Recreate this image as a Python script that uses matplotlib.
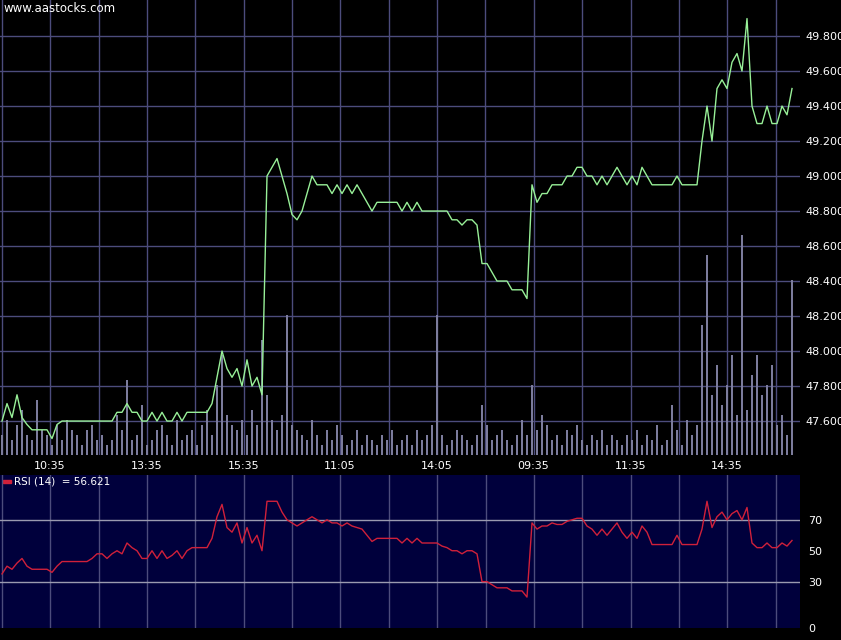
import matplotlib
matplotlib.use("Agg")
import matplotlib.pyplot as plt
import numpy as np

price = [47.60,47.70,47.62,47.75,47.62,47.58,47.55,47.55,47.55,47.55,47.50,47.58,
 47.60,47.60,47.60,47.60,47.60,47.60,47.60,47.60,47.60,
 47.60,47.60,47.65,47.65,47.70,47.65,47.65,47.60,47.60,47.65,47.60,47.65,47.60,47.60,47.65,47.60,47.65,
 47.65,47.65,47.65,47.65,47.70,47.85,48.00,47.90,47.85,47.90,47.80,47.95,47.80,47.85,47.75,
 49.00,49.05,49.10,49.00,48.90,48.78,48.75,48.80,48.90,49.00,48.95,48.95,48.95,48.90,48.95,48.90,48.95,48.90,48.95,48.90,
 48.85,48.80,48.85,48.85,48.85,48.85,48.85,48.80,48.85,48.80,48.85,48.80,48.80,48.80,48.80,48.80,48.80,
 48.75,48.75,48.72,48.75,48.75,48.72,48.50,48.50,48.45,48.40,48.40,48.40,48.35,48.35,48.35,48.30,
 48.95,48.85,48.90,48.90,48.95,48.95,48.95,49.00,49.00,49.05,49.05,49.00,49.00,48.95,49.00,48.95,49.00,49.05,49.00,48.95,
 49.00,48.95,49.05,49.00,48.95,48.95,48.95,48.95,48.95,49.00,48.95,48.95,48.95,48.95,
 49.20,49.40,49.20,49.50,49.55,49.50,49.65,49.70,49.60,49.90,49.40,49.30,49.30,49.40,49.30,49.30,49.40,49.35,49.50]

volume = [20,35,15,30,45,20,15,55,25,20,10,30,15,35,25,20,10,25,30,15,
 20,10,15,40,25,75,15,20,50,10,15,25,30,20,10,35,15,20,25,10,
 30,45,20,70,100,40,30,25,35,20,45,30,115,60,35,25,40,140,30,25,
 20,15,35,20,10,25,15,30,20,10,15,25,10,20,15,10,20,15,25,10,
 15,20,10,25,15,20,30,140,20,10,15,25,20,15,10,20,50,30,15,20,
 25,15,10,20,35,20,70,25,40,30,15,20,10,25,20,30,15,10,20,15,
 25,10,20,15,10,20,15,25,10,20,15,30,10,15,50,25,10,35,20,30,
 130,200,60,90,50,70,100,40,220,45,80,100,60,70,90,30,40,20,175]

rsi = [35,40,38,42,45,40,38,38,38,38,36,40,
 43,43,43,43,43,43,45,48,48,
 45,48,50,48,55,52,50,45,45,50,45,50,45,47,50,45,50,
 52,52,52,52,58,72,80,65,62,68,55,65,55,60,50,
 82,82,82,75,70,68,66,68,70,72,70,68,70,68,68,66,68,66,65,64,
 60,56,58,58,58,58,58,55,58,55,58,55,55,55,55,53,52,
 50,50,48,50,50,48,30,30,28,26,26,26,24,24,24,20,
 68,64,66,66,68,67,67,69,70,71,71,66,64,60,64,60,64,68,62,58,
 62,58,66,62,54,54,54,54,54,60,54,54,54,54,
 64,82,65,72,75,70,74,76,70,78,55,52,52,55,52,52,55,53,56.621]

time_labels = ["10:35","13:35","15:35","11:05","14:05","09:35","11:35","14:35"]
price_ticks = [47.6,47.8,48.0,48.2,48.4,48.6,48.8,49.0,49.2,49.4,49.6,49.8]
rsi_ticks = [0,30,50,70]

W, H = 841, 640
BG = "#00003c"
GRID = "#4c4c7c"
fig = plt.figure(figsize=(W/100, H/100), dpi=100, facecolor="black")
xp = np.arange(len(price))
xv = np.arange(len(volume))
xr = np.arange(len(rsi))
xlim = (-0.4, 159.6)
major = [9.6 + 19.34*k for k in range(8)]
minor = [19.34*k/2 for k in range(17)]

ax = fig.add_axes([0, 1-455/H, 800/W, 455/H], facecolor=BG)
axv = ax.twinx()
ax.set_zorder(axv.get_zorder()+1); ax.patch.set_visible(False)
axv.set_facecolor(BG)
axv.bar(xv, volume, width=0.4, color="#7c7c9c", zorder=2)
axv.set_ylim(0, 455)
axv.set_yticks([])
for xx in minor:
    axv.axvline(xx, color=GRID, lw=1, zorder=1)
for p in price_ticks:
    axv.axhline(455*(p-47.406)/(50.006-47.406), color=GRID, lw=1, zorder=1)
ax.plot(xp, price, color="#98f098", lw=1, zorder=3)
ax.set_xlim(*xlim); axv.set_xlim(*xlim)
ax.set_ylim(47.406, 50.006)
ax.yaxis.tick_right()
ax.set_yticks(price_ticks)
ax.set_yticklabels([f"{p:.3f}" for p in price_ticks], color="white", fontsize=8)
ax.tick_params(axis="y", length=0, pad=4)
ax.set_xticks(major)
ax.set_xticklabels(time_labels, color="white", fontsize=8)
ax.tick_params(axis="x", length=0, pad=4)
for a in (ax, axv):
    for s in a.spines.values(): s.set_visible(False)
axv.tick_params(axis="x", length=0, labelbottom=False)
ax.text(0.004, 0.995, "www.aastocks.com", transform=ax.transAxes, color="white",
        fontsize=8.5, va="top", ha="left")

ar = fig.add_axes([0, 12/H, 800/W, (628-475)/H], facecolor=BG)
for xx in minor:
    ar.axvline(xx, color=GRID, lw=1)
ar.axhline(70, color="#9a9ab0", lw=1)
ar.axhline(30, color="#9a9ab0", lw=1)
ar.plot(xr, rsi, color="#d0203a", lw=1)
ar.set_xlim(*xlim); ar.set_ylim(0, 99)
ar.yaxis.tick_right()
ar.set_yticks(rsi_ticks)
ar.set_yticklabels([str(t) for t in rsi_ticks], color="white", fontsize=8)
ar.tick_params(axis="y", length=0, pad=6)
ar.set_xticks([])
for s in ar.spines.values(): s.set_visible(False)
ar.add_patch(plt.Rectangle((0.004, 0.945), 0.01, 0.02, transform=ar.transAxes, color="#d0203a"))
ar.text(0.017, 0.955, f"RSI (14)  = {rsi[-1]:.3f}", transform=ar.transAxes,
        color="white", fontsize=7.5, va="center", ha="left")

fig.savefig("out.png", dpi=100, facecolor="black")
